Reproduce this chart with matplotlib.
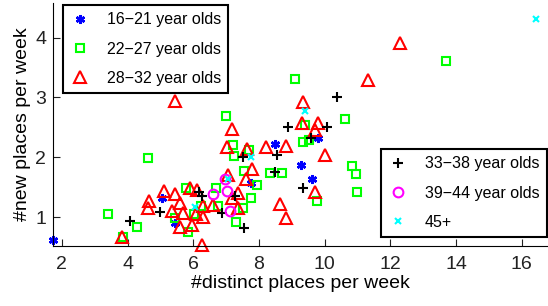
import numpy as np
import matplotlib.pyplot as plt

plt.rcParams['font.family'] = ['Liberation Sans', 'DejaVu Sans']

# 16-21 year olds
g1_x = [1.73, 5.04, 5.44, 7.75, 8.48, 9.27, 9.63, 9.79]
g1_y = [0.62, 1.31, 0.90, 1.57, 2.22, 1.87, 1.64, 2.32]
# 22-27 year olds
g2_x = [3.40, 3.86, 4.28, 4.62, 5.44, 5.83, 5.77, 6.23, 6.69, 6.74, 7.51, 7.75, 7.93,
        7.29, 7.54, 7.24, 7.20, 7.69, 7.00, 8.33, 8.70, 9.09, 9.39, 9.34, 9.53,
        10.61, 13.68, 10.83, 10.95, 10.98, 9.76, 6.02]
g2_y = [1.05, 0.67, 0.83, 1.99, 0.98, 0.75, 1.48, 1.18, 1.48, 1.18, 1.15, 1.31, 1.53,
        0.91, 1.77, 2.02, 2.2, 2.12, 2.69, 1.73, 1.74, 3.31, 2.54, 2.25, 2.29,
        2.64, 3.61, 1.85, 1.72, 1.42, 1.27, 1.05]
# 28-32 year olds
g3_x = [3.82, 4.65, 4.62, 5.10, 5.44, 5.59, 5.35, 5.68, 5.59, 5.96, 5.90, 6.11, 6.29,
        6.29, 6.08, 6.59, 6.26, 7.05, 7.35, 7.17, 7.35, 7.17, 7.02, 7.63, 7.78, 7.60,
        8.21, 8.81, 8.63, 8.81, 5.44, 12.29, 11.31, 9.33, 9.31, 9.79, 9.71, 10.00, 9.70]
g3_y = [0.66, 1.26, 1.15, 1.43, 1.38, 1.23, 1.10, 1.07, 0.83, 0.87, 1.48, 1.45, 1.18,
        1.0, 1.05, 1.2, 0.53, 1.70, 1.4, 1.32, 1.15, 2.47, 2.17, 2.13, 1.80, 1.64,
        2.17, 2.18, 1.22, 0.98, 2.94, 3.91, 3.29, 2.92, 2.57, 2.57, 2.45, 2.04, 1.42]
# 33-38 year olds
g4_x = [4.07, 4.99, 6.16, 6.26, 6.87, 7.27, 7.54, 7.51, 8.55, 8.48, 8.87, 10.37, 10.07, 9.57, 9.34]
g4_y = [0.93, 1.08, 1.42, 1.35, 1.07, 1.35, 0.82, 2.0, 2.04, 1.75, 2.5, 3.0, 2.51, 2.32, 1.48]
# 39-44 year olds
g5_x = [6.59, 6.97, 7.02, 7.11]
g5_y = [1.38, 1.63, 1.43, 1.1]
# 45+
g6_x = [6.05, 7.05, 7.75, 9.41, 16.42]
g6_y = [1.17, 1.64, 2.0, 2.77, 4.31]

fig = plt.figure(figsize=(5.48, 3.06), dpi=100)
ax = fig.add_axes([53/548, 60/306, 495/548, 243/306])

h1, = ax.plot(g1_x, g1_y, ls='none', marker=(6, 2, 0), ms=6.5, mew=1.8, color='blue',
              label='16\u221221 year olds', clip_on=False)
h2, = ax.plot(g2_x, g2_y, ls='none', marker='s', ms=6, mew=1.5, mfc='none', mec='#00ff00',
              label='22\u221227 year olds')
h3, = ax.plot(g3_x, g3_y, ls='none', marker='^', ms=8.5, mew=1.5, mfc='none', mec='red',
              label='28\u221232 year olds', clip_on=False)
h4, = ax.plot(g4_x, g4_y, ls='none', marker='+', ms=7.5, mew=1.5, color='black',
              label='33\u221238 year olds')
h5, = ax.plot(g5_x, g5_y, ls='none', marker='o', ms=7, mew=1.5, mfc='none', mec='magenta',
              label='39\u221244 year olds')
h6, = ax.plot(g6_x, g6_y, ls='none', marker='x', ms=5, mew=1.5, color='cyan', label='45+')

ax.set_xlim(1.73, 16.8)
ax.set_ylim(0.515, 4.58)
ax.set_xticks([2, 4, 6, 8, 10, 12, 14, 16])
ax.set_yticks([1, 2, 3, 4])
ax.spines['top'].set_visible(False)
ax.spines['right'].set_visible(False)
ax.tick_params(direction='in', length=5, labelsize=14, colors='#222222')
ax.tick_params(axis='x', pad=7)
ax.tick_params(axis='y', pad=5)
ax.set_xlabel('#distinct places per week', fontsize=14, labelpad=2)
ax.set_ylabel('#new places per week', fontsize=14, labelpad=3)

leg_kw = dict(loc='upper left', bbox_transform=fig.transFigure, fontsize=11.5, fancybox=False,
              edgecolor='black', framealpha=1, labelspacing=0.9, handlelength=1.2,
              handletextpad=1.1, borderpad=0.45, borderaxespad=0)
leg1 = ax.legend(handles=[h1, h2, h3], bbox_to_anchor=(63/548, 1 - 5/306), **leg_kw)
leg1.get_frame().set_linewidth(1.5)
ax.add_artist(leg1)
leg2 = ax.legend(handles=[h4, h5, h6], bbox_to_anchor=(381/548, 1 - 149/306), **leg_kw)
leg2.get_frame().set_linewidth(1.5)

fig.savefig('out.png', dpi=100)
